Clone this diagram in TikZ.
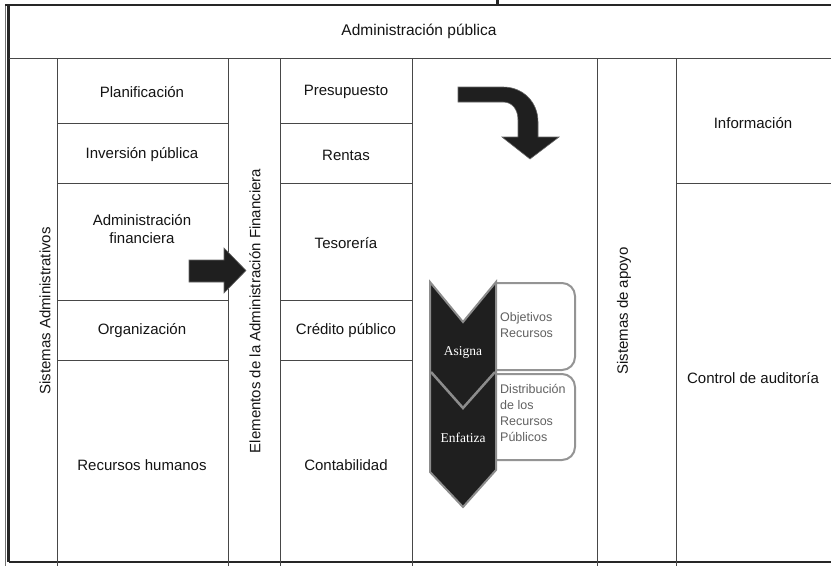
\documentclass[tikz,border=0pt]{standalone}
\usepackage{fontspec}
\setmainfont{Liberation Sans}
\newfontfamily\serifface{Liberation Serif}
\begin{document}
\begin{tikzpicture}[x=1pt,y=-1pt,
  gridline/.style={draw=black!72, line width=1pt},
  frame/.style={draw=black!85, line width=2.2pt},
  lbl/.style={font=\fontsize{15}{18}\selectfont, text=black!92, align=center, inner sep=0pt},
  hdr/.style={lbl, font=\fontsize{15.5}{18}\selectfont},
  vlbl/.style={lbl, rotate=90},
  boxtxt/.style={font=\fontsize{12.5}{16}\selectfont, text=black!62, align=left, inner sep=0pt, anchor=north west},
  chevtxt/.style={font=\serifface\fontsize{13.5}{16}\selectfont, text=white, inner sep=0pt},
  chev/.style={fill=black!88, draw=black!45, line width=2pt, line join=miter},
  ibox/.style={draw=black!42, line width=2pt, rounded corners=13pt, fill=white},
  blockarrow/.style={fill=black!88, draw=black!60, line width=0.6pt, line join=miter}]
\useasboundingbox (0,0) rectangle (831,566);
\fill[white] (0,0) rectangle (831,566);

% outer frame
\coordinate (tl) at (5,5);
\coordinate (bl) at (5,566);
\coordinate (tr) at (831,5);
\coordinate (ibl) at (8.5,562);
\coordinate (ibr) at (831,562);
\draw[draw=black!55, line width=1pt] (tl) -- (bl);
\draw[frame] (8.5,5) -- (8.5,562);
\draw[frame] (tl) -- (tr);
\draw[frame, line width=2.6pt] (ibl) -- (ibr);
\draw[draw=black!85, line width=2.5pt] (497.5,0) -- (497.5,5);

% header separator
\draw[gridline] (8.5,58) -- (831,58);

% vertical column lines
\foreach \xx in {57,228,280,412,597,676} {
  \draw[gridline] (\xx,58) -- (\xx,566);
}

% row lines, column 1 and column 3
\foreach \yy in {123,183,300,360} {
  \draw[gridline] (57,\yy) -- (228,\yy);
  \draw[gridline] (280,\yy) -- (412,\yy);
}
\draw[gridline] (676,183) -- (831,183);

% header
\node[hdr] (adm) at (419,31) {Administración pública};

% column 1
\node[lbl] (plan) at (142,92) {Planificación};
\node[lbl] (inv) at (142,155) {Inversión pública};
\node[lbl] (admfin) at (142,229) {Administración\\financiera};
\node[lbl] (org) at (142,331) {Organización};
\node[lbl] (rrhh) at (142,465) {Recursos humanos};

% column 3
\node[lbl] (pres) at (346,92) {Presupuesto};
\node[lbl] (rent) at (346,155) {Rentas};
\node[lbl] (teso) at (346,243) {Tesorería};
\node[lbl] (cred) at (346,331) {Crédito público};
\node[lbl] (cont) at (346,465) {Contabilidad};

% right column
\node[lbl] (info) at (753,123) {Información};
\node[lbl] (ctrl) at (753,378) {Control de auditoría};

% vertical labels
\node[vlbl] (sisadm) at (45,311) {Sistemas Administrativos};
\node[vlbl] (elem) at (255,311) {Elementos de la Administración Financiera};
\node[vlbl] (sisap) at (624,311) {Sistemas de apoyo};

% right block arrow
\draw[blockarrow] (189,260) -- (224,260) -- (224,248) -- (246,270.5) -- (224,293) -- (224,282) -- (189,282) -- cycle;

% curved arrow
\draw[blockarrow] (458,87) -- (503,87) .. controls (523,87) and (538,102) .. (538,122)
  -- (538,137) -- (559,137) -- (530,159) -- (502,137) -- (518,137) -- (518,120)
  .. controls (518,109) and (512,102) .. (503,102) -- (458,102) -- cycle;

% rounded boxes (open on the left, against the chevron)
\draw[ibox] (496,283) -- (575,283) -- (575,370) -- (496,370);
\draw[ibox] (496,374) -- (575,374) -- (575,460) -- (496,460);

% chevron
\draw[chev] (430,282) -- (463,322) -- (496,282) -- (496,470) -- (463,507) -- (430,472) -- cycle;
\draw[draw=black!45, line width=2.5pt, line join=miter] (431,372) -- (463,408) -- (495,372);

\node[chevtxt] (asig) at (463,352) {Asigna};
\node[chevtxt] (enf) at (463,438) {Enfatiza};

\node[boxtxt] (obj) at (500,312) {Objetivos\\Recursos};
\node[boxtxt] (dist) at (500,384) {Distribución\\de los\\Recursos\\Públicos};
\end{tikzpicture}
\end{document}
